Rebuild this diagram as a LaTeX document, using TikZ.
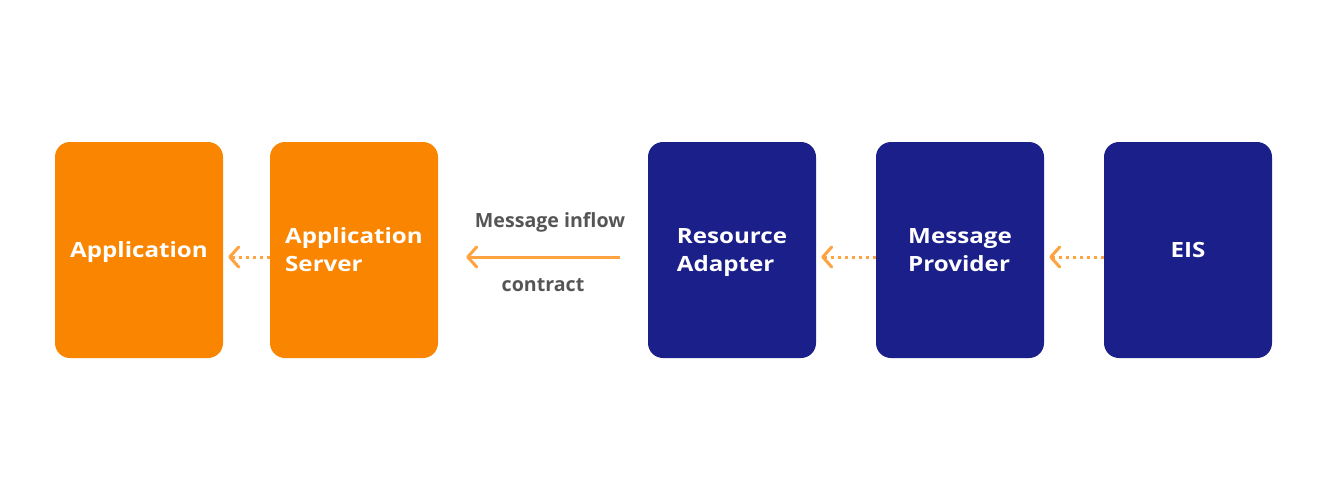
\documentclass[tikz,border=0pt]{standalone}
\usepackage{fontspec}
\setmainfont{Open Sans}
\newfontfamily\blockfont[FakeStretch=1.15]{Open Sans}
\usetikzlibrary{arrows.meta}
\definecolor{boxorange}{HTML}{FA8500}
\definecolor{boxnavy}{HTML}{1B1F8A}
\definecolor{arrorange}{HTML}{FFA240}
\definecolor{labelgrey}{HTML}{555555}
\newcommand\bstrut{\rule[-6.6pt]{0pt}{28pt}}
\begin{document}
\begin{tikzpicture}[x=1pt,y=-1pt,
  block/.style={rounded corners=15pt, minimum width=168pt, minimum height=216pt, inner sep=0pt,
    text=white, font=\blockfont\fontsize{21}{28}\selectfont\bfseries, align=left},
  orangebox/.style={block, fill=boxorange},
  navybox/.style={block, fill=boxnavy},
  flowarrow/.style={draw=arrorange, line width=3pt, -{Straight Barb[length=9pt,width=20pt,line cap=round,line join=round]}},
  dottedflow/.style={flowarrow, dash pattern=on 2.5pt off 4.5pt},
  lbl/.style={text=labelgrey, font=\fontsize{19.6}{22}\selectfont\bfseries, anchor=base, inner sep=0pt}
]
\useasboundingbox (0,0) rectangle (1321,499);
\node[orangebox] (app) at (139,250) {\bstrut Application};
\node[orangebox] (as) at (354,250) {\bstrut Application\\\bstrut Server};
\node[navybox] (ra) at (732,250) {\bstrut Resource\\\bstrut Adapter};
\node[navybox] (mp) at (960,250) {\bstrut Message\\\bstrut Provider};
\node[navybox] (eis) at (1188,250) {\bstrut EIS};
\draw[dottedflow, shorten >=5pt] ([yshift=-7pt]as.west) -- ([yshift=-7pt]app.east);
\draw[flowarrow, shorten <=28pt, shorten >=28pt] ([yshift=-7pt]ra.west) -- ([yshift=-7pt]as.east);
\draw[dottedflow, shorten >=5pt] ([yshift=-7pt]mp.west) -- ([yshift=-7pt]ra.east);
\draw[dottedflow, shorten >=5pt] ([yshift=-7pt]eis.west) -- ([yshift=-7pt]mp.east);
\node[lbl] (inflow) at (550,227) {Message inflow};
\node[lbl] (contract) at (543,291) {contract};
\end{tikzpicture}
\end{document}
